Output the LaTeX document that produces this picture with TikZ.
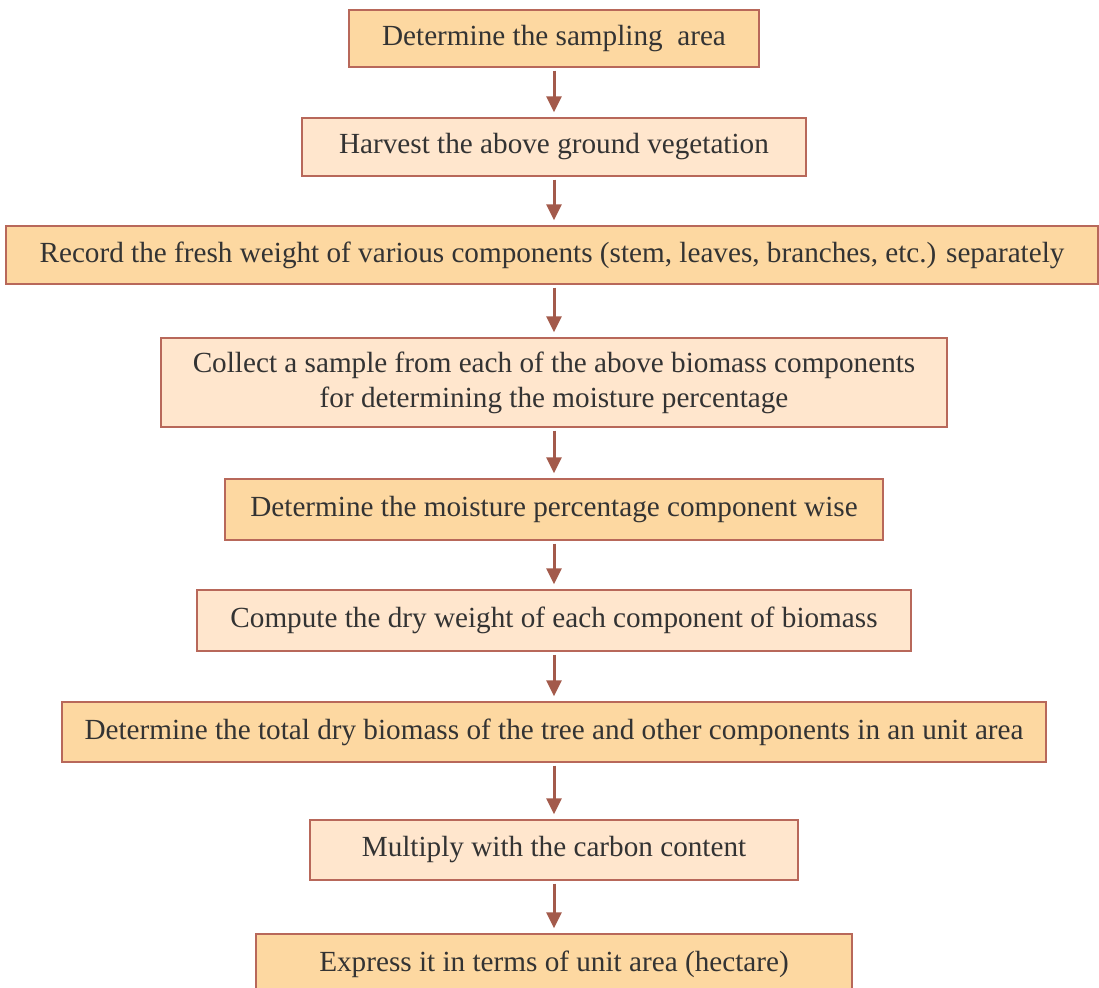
\documentclass[tikz,border=0pt]{standalone}
\usepackage{fontspec}
\setmainfont{Liberation Serif}
\usepackage{xcolor}
\usetikzlibrary{positioning,arrows.meta}
\definecolor{boxdark}{HTML}{FDD8A1}
\definecolor{boxlight}{HTML}{FFE6CD}
\definecolor{boxedge}{HTML}{B8685A}
\definecolor{arrowcol}{HTML}{A35A4B}
\definecolor{textcol}{HTML}{333333}

\begin{document}
\begin{tikzpicture}[x=0.5pt,y=-0.5pt,
    stepdark/.style={draw=boxedge,line width=0.7pt,fill=boxdark,text=textcol,font=\fontsize{14.6}{17.5}\selectfont,inner sep=0pt,align=center},
    steplight/.style={stepdark,fill=boxlight},
    flow/.style={-{Triangle[length=8pt,width=7.5pt]},line width=1.5pt,arrowcol,shorten <=1.5pt,shorten >=2.5pt}]
  \useasboundingbox (0,0) rectangle (1099,988);
  % steps, top to bottom, colours alternate
  \node[stepdark,minimum width=205pt,minimum height=28.5pt] (area) at (554,38.5) {Determine the sampling\ \ area};
  \node[steplight,minimum width=252pt,minimum height=29pt] (harvest) at (554,147) {Harvest the above ground vegetation};
  \node[stepdark,minimum width=546pt,minimum height=29pt] (fresh) at (552,255) {Record the fresh weight of various components (stem, leaves, branches, etc.) separately};
  \node[steplight,minimum width=393pt,minimum height=44.5pt] (sample) at (554,382.5) {Collect a sample from each of the above biomass components\\for determining the moisture percentage};
  \node[stepdark,minimum width=329pt,minimum height=30.5pt] (moist) at (554,509.5) {Determine the moisture percentage component wise};
  \node[steplight,minimum width=357pt,minimum height=30.5pt] (dry) at (554,620.5) {Compute the dry weight of each component of biomass};
  \node[stepdark,minimum width=492pt,minimum height=30pt] (total) at (554,732) {Determine the total dry biomass of the tree and other components in an unit area};
  \node[steplight,minimum width=244pt,minimum height=30pt] (carbon) at (554,850) {Multiply with the carbon content};
  \node[stepdark,minimum width=298pt,minimum height=30pt] (hect) at (554,964) {Express it in terms of unit area (hectare)};
  % connectors
  \draw[flow] (area) -- (harvest);
  \draw[flow] (harvest) -- (harvest.south |- fresh.north);
  \draw[flow] (harvest.south |- fresh.south) -- (sample);
  \draw[flow] (sample) -- (moist);
  \draw[flow] (moist) -- (dry);
  \draw[flow] (dry) -- (total);
  \draw[flow] (total) -- (carbon);
  \draw[flow] (carbon) -- (hect);
\end{tikzpicture}
\end{document}
